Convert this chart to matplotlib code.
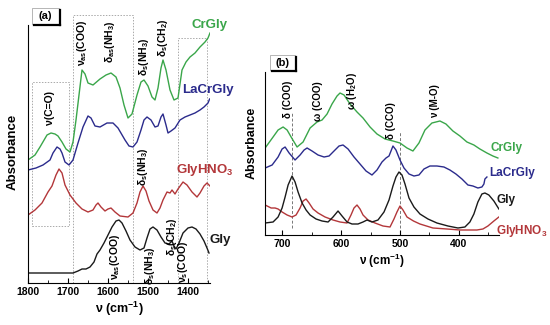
import numpy as np
import matplotlib
matplotlib.use("Agg")
import matplotlib.pyplot as plt
from matplotlib.patches import Rectangle
from matplotlib.lines import Line2D

plt.rcParams['font.family'] = ['Liberation Sans', 'DejaVu Sans']
plt.rcParams['font.weight'] = 'bold'
plt.rcParams['mathtext.fontset'] = 'custom'
plt.rcParams['mathtext.rm'] = 'Liberation Sans:bold'
plt.rcParams['mathtext.it'] = 'Liberation Sans:bold'
plt.rcParams['mathtext.bf'] = 'Liberation Sans:bold'

# === Panel (a): 1800-1345 cm-1 === #
wn_cr_a = [1800, 1782.5, 1770, 1752.5, 1742.5, 1732.5, 1725, 1715, 1705, 1695, 1687.5, 1680,
           1672.5, 1665, 1657.5, 1650, 1637.5, 1620, 1605, 1592.5, 1580, 1570, 1560, 1550,
           1540, 1527.5, 1517.5, 1510, 1500, 1490, 1482.5, 1475, 1467.5, 1462.5, 1455, 1445,
           1435, 1425, 1415, 1405, 1395, 1382.5, 1370, 1357.5, 1350, 1345]
abs_cr_a = [1.23, 1.28, 1.36, 1.48, 1.50, 1.49, 1.47, 1.41, 1.34, 1.31, 1.41, 1.63,
            1.88, 2.13, 2.09, 2.00, 1.98, 2.04, 2.08, 2.10, 2.06, 1.95, 1.78, 1.65,
            1.69, 1.88, 2.01, 2.03, 1.97, 1.86, 1.83, 1.95, 2.15, 2.23, 2.13, 1.93,
            1.83, 1.85, 2.13, 2.21, 2.26, 2.30, 2.36, 2.41, 2.45, 2.50]

wn_lacr_a = [1800, 1780, 1762.5, 1745, 1737.5, 1727.5, 1720, 1715, 1707.5, 1697.5, 1687.5, 1675,
             1662.5, 1650, 1642.5, 1632.5, 1620, 1602.5, 1587.5, 1575, 1557.5, 1547.5, 1537.5,
             1527.5, 1517.5, 1510, 1502.5, 1492.5, 1482.5, 1475, 1467.5, 1462.5, 1455, 1450,
             1442.5, 1432.5, 1420, 1407.5, 1395, 1382.5, 1370, 1360, 1350, 1346]
abs_lacr_a = [1.13, 1.15, 1.18, 1.23, 1.30, 1.36, 1.34, 1.30, 1.21, 1.18, 1.23, 1.40,
              1.56, 1.67, 1.65, 1.57, 1.56, 1.60, 1.60, 1.55, 1.43, 1.37, 1.36,
              1.41, 1.53, 1.63, 1.66, 1.63, 1.56, 1.57, 1.66, 1.69, 1.58, 1.50,
              1.52, 1.55, 1.63, 1.66, 1.68, 1.70, 1.73, 1.76, 1.80, 1.84]

wn_hno3_a = [1800, 1782.5, 1765, 1750, 1740, 1730, 1722.5, 1715, 1707.5, 1695, 1680, 1665,
             1650, 1637.5, 1630, 1625, 1617.5, 1607.5, 1600, 1592.5, 1582.5, 1570, 1550,
             1537.5, 1527.5, 1520, 1512.5, 1505, 1497.5, 1487.5, 1477.5, 1470, 1462.5, 1452.5,
             1445, 1440, 1432.5, 1425, 1412.5, 1402.5, 1390, 1377.5, 1370, 1360, 1352.5, 1345]
abs_hno3_a = [0.68, 0.73, 0.80, 0.91, 0.97, 1.08, 1.14, 1.10, 0.98, 0.88, 0.80, 0.74,
              0.71, 0.73, 0.78, 0.80, 0.76, 0.72, 0.74, 0.75, 0.71, 0.67, 0.66,
              0.70, 0.80, 0.91, 0.97, 0.92, 0.82, 0.73, 0.70, 0.75, 0.83, 0.91,
              0.90, 0.93, 0.89, 0.94, 1.01, 0.98, 0.91, 0.86, 0.90, 0.97, 1.00, 0.97]

wn_gly_a = [1800, 1745, 1687.5, 1675, 1665, 1655, 1645, 1635, 1627.5, 1620, 1610, 1600,
            1590, 1580, 1572.5, 1565, 1555, 1545, 1532.5, 1520, 1510, 1502.5, 1495, 1487.5,
            1477.5, 1467.5, 1457.5, 1447.5, 1440, 1435, 1430, 1422.5, 1412.5, 1400, 1390,
            1380, 1370, 1360, 1352.5, 1347.5]
abs_gly_a = [0.10, 0.10, 0.10, 0.12, 0.14, 0.14, 0.16, 0.21, 0.29, 0.33, 0.40, 0.48,
             0.56, 0.62, 0.63, 0.60, 0.52, 0.43, 0.36, 0.33, 0.35, 0.45, 0.54, 0.56,
             0.53, 0.46, 0.40, 0.39, 0.42, 0.37, 0.34, 0.40, 0.50, 0.55, 0.56,
             0.54, 0.49, 0.42, 0.35, 0.30]

# === Panel (b): 730-330 cm-1 === #
wn_cr_b = [728.8, 715.3, 706.8, 698.3, 691.5, 684.7, 674.6, 664.4, 652.5, 640.7, 632.2, 623.7,
           615.3, 606.8, 601.7, 594.9, 584.7, 572.9, 562.7, 550.8, 539.0, 525.4, 511.9, 500.0,
           488.1, 478.0, 467.8, 457.6, 445.8, 432.2, 422.0, 410.2, 398.3, 386.4, 374.6, 364.4,
           352.5, 342.4, 333.9]
abs_cr_b = [0.87, 0.98, 1.05, 1.08, 1.05, 0.98, 0.88, 0.93, 1.07, 1.13, 1.15, 1.21,
            1.31, 1.39, 1.42, 1.40, 1.31, 1.23, 1.17, 1.08, 1.01, 0.96, 0.94, 0.92,
            0.87, 0.84, 0.92, 1.05, 1.12, 1.14, 1.11, 1.04, 0.99, 0.93, 0.90, 0.86,
            0.82, 0.79, 0.77]

wn_lacr_b = [728.8, 716.9, 706.8, 700.0, 694.9, 688.1, 678.0, 669.5, 662.7, 657.6, 649.2, 639.0,
             628.8, 620.3, 611.9, 603.4, 596.6, 588.1, 578.0, 567.8, 557.6, 547.5, 539.0, 530.5,
             523.7, 518.6, 511.9, 506.8, 500.0, 493.2, 484.7, 476.3, 467.8, 459.3, 449.2, 437.3,
             425.4, 415.3, 405.1, 394.9, 384.7, 376.3, 367.8, 361.0, 357.6, 355.9, 352.5]
abs_lacr_b = [0.67, 0.70, 0.78, 0.86, 0.88, 0.82, 0.75, 0.80, 0.85, 0.87, 0.84, 0.80,
              0.78, 0.79, 0.84, 0.89, 0.90, 0.86, 0.78, 0.71, 0.64, 0.60, 0.65, 0.73,
              0.77, 0.79, 0.89, 0.85, 0.75, 0.67, 0.61, 0.59, 0.60, 0.66, 0.69, 0.69,
              0.68, 0.65, 0.61, 0.56, 0.50, 0.49, 0.47, 0.48, 0.51, 0.56, 0.58]

wn_gly_b = [728.8, 715.3, 706.8, 700.0, 694.9, 689.8, 683.1, 678.0, 672.9, 666.1, 659.3, 652.5,
            642.4, 632.2, 622.0, 613.6, 605.1, 598.3, 589.8, 581.4, 571.2, 562.7, 555.9, 547.5,
            537.3, 527.1, 518.6, 511.9, 506.8, 501.7, 496.6, 491.5, 484.7, 476.3, 466.1, 452.5,
            437.3, 418.6, 401.7, 389.8, 381.4, 374.6, 367.8, 361.0, 355.9, 349.2, 340.7, 332.2]
abs_gly_b = [0.12, 0.13, 0.18, 0.27, 0.38, 0.50, 0.59, 0.53, 0.43, 0.32, 0.25, 0.20,
             0.16, 0.14, 0.13, 0.18, 0.24, 0.19, 0.13, 0.11, 0.11, 0.13, 0.15, 0.13,
             0.15, 0.23, 0.35, 0.49, 0.58, 0.63, 0.60, 0.51, 0.37, 0.28, 0.21, 0.16,
             0.12, 0.09, 0.07, 0.08, 0.13, 0.21, 0.33, 0.41, 0.42, 0.40, 0.34, 0.26]

wn_hno3_b = [728.8, 718.6, 711.9, 706.8, 700.0, 691.5, 683.1, 676.3, 669.5, 664.4, 659.3, 654.2,
             647.5, 639.0, 627.1, 613.6, 601.7, 589.8, 583.1, 578.0, 572.9, 567.8, 562.7, 554.2,
             542.4, 528.8, 516.9, 510.2, 505.1, 500.0, 494.9, 488.1, 477.1, 466.1, 444.1, 420.3,
             398.3, 369.5, 359.3, 350.8, 340.7, 332.2]
abs_hno3_b = [0.30, 0.27, 0.27, 0.26, 0.23, 0.20, 0.18, 0.20, 0.27, 0.34, 0.36, 0.32,
              0.26, 0.22, 0.18, 0.15, 0.13, 0.12, 0.20, 0.27, 0.30, 0.26, 0.20, 0.15,
              0.12, 0.09, 0.08, 0.16, 0.23, 0.29, 0.25, 0.18, 0.14, 0.11, 0.07, 0.06,
              0.05, 0.05, 0.06, 0.09, 0.14, 0.18]

c_green = '#3aa64a'
c_navy = '#2b2b8c'
c_red = '#b3373a'
c_black = '#1a1a1a'
c_box = '#aaaaaa'

fig = plt.figure(figsize=(5.5, 3.25), dpi=100)
ax1 = fig.add_axes([28/550, 42/325, 182/550, 258/325])
ax2 = fig.add_axes([265/550, 90/325, 234/550, 163/325])

for ax in (ax1, ax2):
    ax.spines['top'].set_visible(False)
    ax.spines['right'].set_visible(False)
    ax.set_yticks([])
    ax.tick_params(axis='x', direction='in', length=3.5, width=0.8, labelsize=7.5, pad=3)
    ax.tick_params(axis='x', which='minor', direction='in', length=2, width=0.6)
    for lab in ax.get_xticklabels():
        lab.set_fontweight('bold')

# --- panel (a) ---
ax1.plot(wn_cr_a, abs_cr_a, color=c_green, lw=1.0)
ax1.plot(wn_lacr_a, abs_lacr_a, color=c_navy, lw=1.0)
ax1.plot(wn_hno3_a, abs_hno3_a, color=c_red, lw=1.0)
ax1.plot(wn_gly_a, abs_gly_a, color=c_black, lw=1.0)
ax1.set_xlim(1800, 1345)
ax1.set_ylim(0, 2.58)
ax1.set_xticks([1800, 1700, 1600, 1500, 1400])
ax1.set_xticks(np.arange(1750, 1345, -100), minor=True)
ax1.set_xticklabels(['1800', '1700', '1600', '1500', '1400'], fontweight='bold')

# boxes (dotted grey)
bk = dict(color=c_box, lw=0.7, ls=(0, (1.5, 1.5)), clip_on=False, zorder=0)
ax1.plot([1790, 1697.5, 1697.5, 1790, 1790], [0.57, 0.57, 2.01, 2.01, 0.57], **bk)
ax1.plot([1687.5, 1687.5, 1537.5, 1537.5], [0, 2.68, 2.68, 0], **bk)
ax1.plot([1425, 1425, 1352.5, 1352.5], [0, 2.45, 2.45, 0], **bk)

ann = dict(rotation=90, ha='center', va='center', fontsize=7.5, fontweight='bold', clip_on=False)
ax1.text(1745, 1.75, 'ν(C=O)', **ann)
ax1.text(1665, 2.40, 'ν$_{as}$(COO)', **ann)
ax1.text(1595, 2.41, 'δ$_{as}$(NH$_3$)', **ann)
ax1.text(1510, 2.26, 'δ$_s$(NH$_3$)', **ann)
ax1.text(1462.5, 2.45, 'δ$_s$(CH$_2$)', **ann)
ax1.text(1512.5, 1.16, 'δ$_s$(NH$_3$)', **ann)
ax1.text(1440, 0.46, 'δ$_s$(CH$_2$)', **ann)
ax1.text(1582.5, 0.26, 'ν$_{as}$(COO)', **ann)
ax1.text(1495, 0.17, 'δ$_s$(NH$_3$)', **ann)
ax1.text(1412.5, 0.21, 'ν$_s$(COO)', **ann)

lab = dict(ha='center', va='center', fontsize=9.5, fontweight='bold', clip_on=False)
ax1.text(1345, 2.58, 'CrGly', color=c_green, **lab)
ax1.text(1350, 1.93, 'LaCrGly', color=c_navy, **lab)
ax1.text(1357.5, 1.13, 'GlyHNO$_3$', color=c_red, **lab)
ax1.text(1320, 0.43, 'Gly', color=c_black, **lab)

ax1.set_xlabel('ν (cm$^{-1}$)', fontsize=9, fontweight='bold', labelpad=2)

# --- panel (b) ---
ax2.plot(wn_cr_b, abs_cr_b, color=c_green, lw=1.0)
ax2.plot(wn_lacr_b, abs_lacr_b, color=c_navy, lw=1.0)
ax2.plot(wn_hno3_b, abs_hno3_b, color=c_red, lw=1.0)
ax2.plot(wn_gly_b, abs_gly_b, color=c_black, lw=1.0)
ax2.set_xlim(729, 332)
ax2.set_ylim(0, 1.63)
ax2.set_xticks([700, 600, 500, 400])
ax2.set_xticks([650, 550, 450, 350], minor=True)
ax2.set_xticklabels(['700', '600', '500', '400'], fontweight='bold')

ax2.plot([683, 683], [0.07, 1.22], color='#777777', lw=0.7, ls=(0, (3, 2)), zorder=0)
ax2.plot([500, 500], [0.07, 1.03], color='#777777', lw=0.7, ls=(0, (3, 2)), zorder=0)

ann2 = dict(ann, fontsize=7)
ax2.text(689.8, 1.36, 'δ (COO)', **ann2)
ax2.text(639, 1.34, 'ω (COO)', **ann2)
ax2.text(581.4, 1.44, 'ω (H$_2$O)', **ann2)
ax2.text(515.3, 1.14, 'δ (CCO)', **ann2)
ax2.text(440.7, 1.34, 'ν (M-O)', **ann2)

lab2 = dict(lab, fontsize=8.5)
ax2.text(318.6, 0.87, 'CrGly', color=c_green, **lab2)
ax2.text(310.2, 0.62, 'LaCrGly', color=c_navy, **lab2)
ax2.text(320.3, 0.35, 'Gly', color=c_black, **lab2)
ax2.text(293.2, 0.04, 'GlyHNO$_3$', color=c_red, **lab2)

ax2.set_xlabel('ν (cm$^{-1}$)', fontsize=8.5, fontweight='bold', labelpad=2)

# y labels
fig.text(13/550, 1 - 152/325, 'Absorbance', rotation=90, ha='center', va='center',
         fontsize=9.5, fontweight='bold')
fig.text(252/550, 1 - 143/325, 'Absorbance', rotation=90, ha='center', va='center',
         fontsize=9, fontweight='bold')


# === panel tag boxes with shadow === #
def tag_box(x0, y0, w, h, text):
    X0, Y0 = x0/550, 1 - (y0 + h)/325
    fig.add_artist(Rectangle((X0, Y0), w/550, h/325, transform=fig.transFigure,
                             facecolor='white', edgecolor='#999999', lw=0.5))
    fig.add_artist(Line2D([(x0 + w + 1)/550, (x0 + w + 1)/550],
                          [1 - (y0 + 2)/325, 1 - (y0 + h + 1)/325],
                          transform=fig.transFigure, color='black', lw=1.6))
    fig.add_artist(Line2D([(x0 + 2)/550, (x0 + w + 1)/550],
                          [1 - (y0 + h + 1)/325, 1 - (y0 + h + 1)/325],
                          transform=fig.transFigure, color='black', lw=1.6))
    fig.text((x0 + w/2)/550, 1 - (y0 + h/2)/325, text, ha='center', va='center',
             fontsize=8, fontweight='bold')


tag_box(32, 8, 27, 16, '(a)')
tag_box(270, 55, 25, 15, '(b)')

plt.savefig('out.png', dpi=100)
plt.close()
